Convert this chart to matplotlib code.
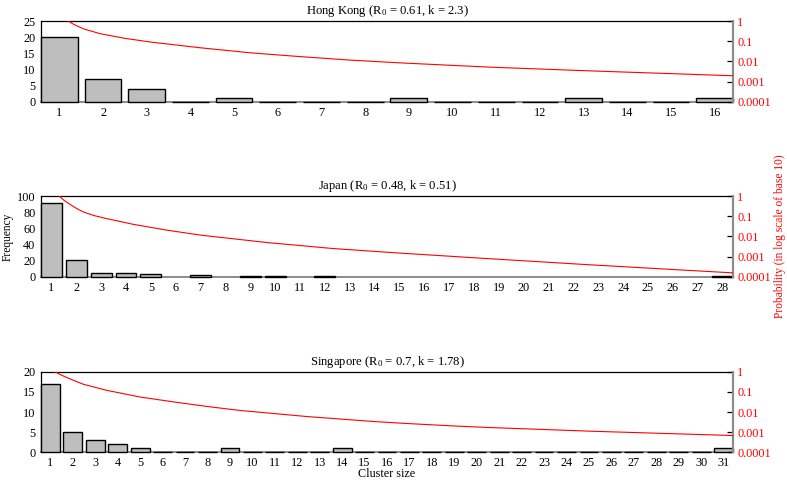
#!/usr/bin/env python3
"""Cluster size frequencies with fitted probability curves for three regions."""

import matplotlib

matplotlib.use("Agg")
import matplotlib.pyplot as plt
import numpy as np
from matplotlib.ticker import FixedLocator, FixedFormatter

plt.rcParams["font.family"] = ["Liberation Serif", "DejaVu Serif"]
plt.rcParams["mathtext.fontset"] = "custom"
plt.rcParams["mathtext.rm"] = "Liberation Serif"
plt.rcParams["mathtext.it"] = "Liberation Serif:italic"

# observed cluster frequencies (None = no bar drawn)
hk_freq = [20, 7, 4, 0, 1, 0, 0, 0, 1, 0, 0, 0, 1, 0, 0, 1]
japan_freq = [92, 21, 4, 4, 3, None, 2, None, 1, 1, None, 1, None, None,
              None, None, None, None, None, None, None, None, None, None,
              None, None, None, 1]
sg_freq = [17, 5, 3, 2, 1, 0, 0, 0, 1, 0, 0, 0, 0, 1, 0, 0, 0, 0, 0, 0,
           0, 0, 0, 0, 0, 0, 0, 0, 0, 0, 1]

# probability curves
hk_curve_x = [1.205, 1.35, 1.55, 1.93, 2.5, 3.07, 4.22, 5.36, 6.51, 7.65,
              8.8, 10.86, 13.15, 15.44, 16.42]
hk_curve_p = [1.0, 0.66, 0.42, 0.24, 0.141, 0.093, 0.048, 0.027, 0.0174,
              0.0117, 0.0085, 0.0052, 0.0034, 0.0023, 0.00195]
japan_curve_x = [1.32, 1.5, 1.75, 2.0, 2.28, 2.7, 3.2, 4.29, 5.6, 6.98, 9.66,
                 12.34, 14.8, 18.64, 22.67, 26.69, 28.42]
japan_curve_p = [1.0, 0.63, 0.39, 0.25, 0.166, 0.11, 0.078, 0.04, 0.021,
                 0.0117, 0.005, 0.0025, 0.00155, 0.00078, 0.00039, 0.000204,
                 0.000155]
sg_curve_x = [1.2, 1.6, 2.02, 2.47, 3.51, 4.99, 6.48, 7.97, 9.45, 10.93,
              12.42, 13.91, 15.39, 16.88, 19.11, 20.59, 25.05, 29.51, 31.42]
sg_curve_p = [1.0, 0.6, 0.38, 0.24, 0.12, 0.056, 0.032, 0.019, 0.012, 0.0085,
              0.006, 0.0045, 0.0034, 0.0027, 0.002, 0.0017, 0.00112, 0.00079,
              0.00068]

titles = [
    r"Hong Kong ($\mathdefault{R_0}$ = 0.61, k = 2.3)",
    r"Japan ($\mathdefault{R_0}$ = 0.48, k = 0.51)",
    r"Singapore ($\mathdefault{R_0}$ = 0.7, k = 1.78)",
]
y_tops = [25, 100, 20]
y_steps = [5, 20, 5]

prob_ticks = [1e-4, 1e-3, 1e-2, 1e-1, 1]
prob_labels = ["0.0001", "0.001", "0.01", "0.1", "1"]

BAR_WIDTH = 0.84
TICK_SIZE = 8.8
TITLE_SIZE = 9.1
LABEL_SIZE = 8.3
SPINE_GRAY = "#8c8c8c"

fig = plt.figure(figsize=(7.87, 4.84), dpi=100)
left, width = 41 / 787, 692 / 787
bottoms = [1 - 101.7 / 484, 1 - 276.7 / 484, 1 - 452.3 / 484]
height = 80.5 / 484

panels = [
    (hk_freq, hk_curve_x, hk_curve_p),
    (japan_freq, japan_curve_x, japan_curve_p),
    (sg_freq, sg_curve_x, sg_curve_p),
]

for idx, (freq, cx, cp) in enumerate(panels):
    ax = fig.add_axes([left, bottoms[idx], width, height])
    positions = np.arange(1, len(freq) + 1)
    heights = np.array([np.nan if v is None else v for v in freq], dtype=float)
    ax.bar(positions, heights, width=BAR_WIDTH, color="#bebebe",
           edgecolor="black", linewidth=1.0, zorder=3, clip_on=False)
    ax.set_xlim(1 - BAR_WIDTH / 2, len(freq) + BAR_WIDTH / 2)
    ax.set_ylim(0, y_tops[idx])
    ax.set_yticks(np.arange(0, y_tops[idx] + 1, y_steps[idx]))
    ax.set_xticks(positions)
    ax.tick_params(axis="both", length=0, labelsize=TICK_SIZE, pad=3.5)
    ax.tick_params(axis="y", pad=4)
    ax.set_title(titles[idx], fontsize=TITLE_SIZE, pad=5)
    ax.spines["right"].set_visible(False)
    ax.spines["top"].set_linewidth(0.9)
    ax.spines["left"].set_linewidth(0.9)
    ax.spines["bottom"].set_color(SPINE_GRAY)
    ax.spines["bottom"].set_linewidth(1.4)

    ax2 = ax.twinx()
    ax2.plot(cx, cp, color="red", linewidth=0.8, zorder=3)
    ax2.set_yscale("log")
    ax2.set_ylim(1e-4, 1)
    ax2.yaxis.set_major_locator(FixedLocator(prob_ticks))
    ax2.yaxis.set_major_formatter(FixedFormatter(prob_labels))
    ax2.yaxis.set_minor_locator(FixedLocator([]))
    ax2.tick_params(axis="y", direction="in", length=4, width=0.9,
                    colors="black", labelcolor="red", labelsize=TICK_SIZE, pad=3)
    for side in ("top", "left", "bottom"):
        ax2.spines[side].set_visible(False)
    ax2.spines["right"].set_color(SPINE_GRAY)
    ax2.spines["right"].set_linewidth(1.6)

fig.text(8 / 787, 1 - 237 / 484, "Frequency", rotation=90,
         ha="center", va="center", fontsize=LABEL_SIZE)
fig.text(780 / 787, 1 - 236 / 484, "Probability (in log scale of base 10)",
         rotation=90, ha="center", va="center", fontsize=LABEL_SIZE, color="red")
fig.text(387 / 787, 1 - 474 / 484, "Cluster size", ha="center", va="center",
         fontsize=LABEL_SIZE + 0.4)

fig.savefig("out.png", dpi=100)
